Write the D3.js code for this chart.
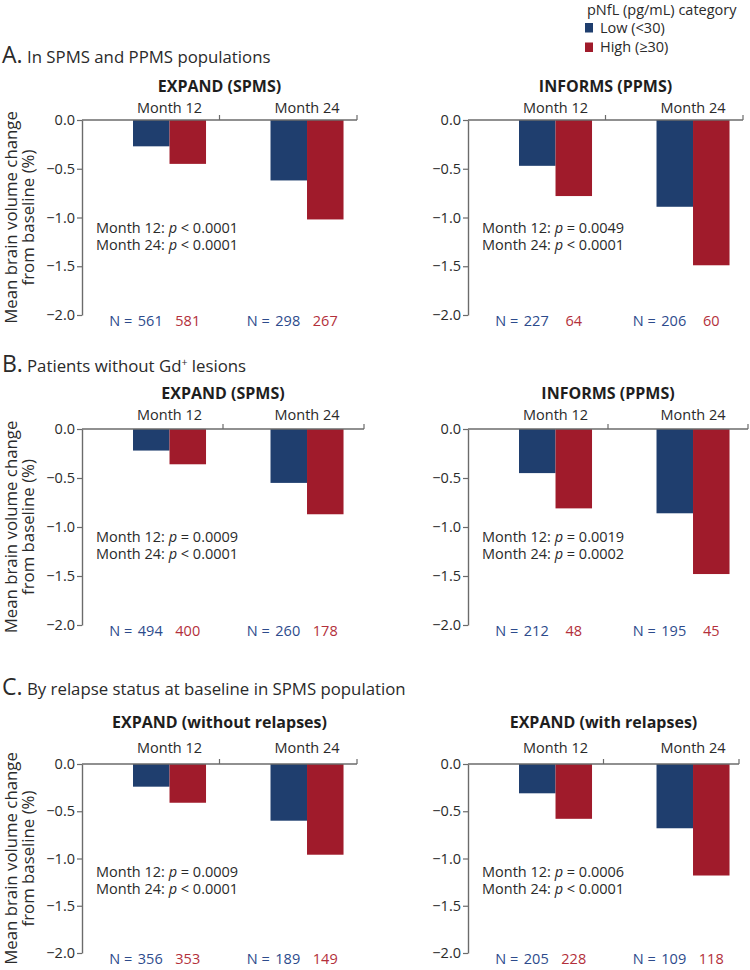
<!DOCTYPE html>
<html><head><meta charset="utf-8">
<script src="https://cdn.jsdelivr.net/npm/d3@7"></script>
<style>
html,body{margin:0;padding:0;background:#fff;}
svg{display:block;font-family:"Open Sans","Noto Sans",sans-serif;}
</style></head>
<body>
<svg id="chart" width="750" height="970"></svg>
<script>
// ---------- data ----------
const sectionLetters = ["A.", "B.", "C."];
const sectionTitles = [
  "In SPMS and PPMS populations",
  "Patients without Gd",
  "By relapse status at baseline in SPMS population"
];
const panelTitles = [
  "EXPAND (SPMS)", "INFORMS (PPMS)",
  "EXPAND (SPMS)", "INFORMS (PPMS)",
  "EXPAND (without relapses)", "EXPAND (with relapses)"
];
const months = ["Month 12", "Month 24"];
const categories = ["Low (<30)", "High (≥30)"];
const lowValues = [
  [-0.27, -0.62], [-0.47, -0.89],
  [-0.22, -0.55], [-0.45, -0.86],
  [-0.24, -0.60], [-0.31, -0.68]
];
const highValues = [
  [-0.45, -1.02], [-0.78, -1.49],
  [-0.36, -0.87], [-0.81, -1.48],
  [-0.41, -0.96], [-0.58, -1.18]
];
const lowN = [[561, 298], [227, 206], [494, 260], [212, 195], [356, 189], [205, 109]];
const highN = [[581, 267], [64, 60], [400, 178], [48, 45], [353, 149], [228, 118]];
const pMonth12 = [["<", "0.0001"], ["=", "0.0049"], ["=", "0.0009"], ["=", "0.0019"], ["=", "0.0009"], ["=", "0.0006"]];
const pMonth24 = [["<", "0.0001"], ["<", "0.0001"], ["<", "0.0001"], ["=", "0.0002"], ["<", "0.0001"], ["<", "0.0001"]];
const yTicks = [0, -0.5, -1.0, -1.5, -2.0];
const yDomain = [-2, 0];
const legendTitle = "pNfL (pg/mL) category";
const yTitle = ["Mean brain volume change", "from baseline (%)"];

// ---------- layout ----------
const colors = ["#1f3e6e", "#a01b2b"];
const nColors = ["#2d4b8c", "#b3303b"];
const rows = [
  {y0: 120, y2: 315, head: 63, title: 92, month: 113, len: [275, 275]},
  {y0: 429, y2: 625, head: 372, title: 399, month: 420, len: [282, 280]},
  {y0: 764, y2: 953, head: 695, title: 728, month: 753, len: [275, 271]}
];
const colX = [82, 468];
const barSpan = 275;
const axisColor = "#6b6b6b";
const textColor = "#2a2a2a";

const svg = d3.select("#chart");

// legend
const lg = svg.append("g");
lg.append("text").attr("x", 587).attr("y", 15).attr("font-size", 14.5).attr("fill", textColor).text(legendTitle);
categories.forEach((c, i) => {
  lg.append("rect").attr("x", 585).attr("y", 23 + i * 19.5).attr("width", 8).attr("height", 9.5).attr("fill", colors[i]);
  lg.append("text").attr("x", 600).attr("y", 32.5 + i * 19.5).attr("font-size", 14.5).attr("fill", textColor).text(c);
});

rows.forEach((r, ri) => {
  // section header
  svg.append("text").attr("x", 2).attr("y", r.head).attr("font-size", 23).attr("fill", textColor).text(sectionLetters[ri]);
  const ht = svg.append("text").attr("x", 27).attr("y", r.head).attr("font-size", 16.8).attr("fill", textColor).text(sectionTitles[ri]);
  if (ri === 1) {
    ht.append("tspan").attr("font-size", 10.5).attr("dy", -6).text("+");
    ht.append("tspan").attr("dy", 6).text(" lesions");
  }

  // y-axis title
  const cy = (r.y0 + r.y2) / 2;
  yTitle.forEach((t, li) => {
    svg.append("text")
      .attr("transform", `translate(${16.5 + li * 17.5},${cy}) rotate(-90)`)
      .attr("text-anchor", "middle").attr("font-size", 16.8).attr("fill", textColor).text(t);
  });

  [0, 1].forEach(ci => {
    const pi = ri * 2 + ci;
    const ax = colX[ci];
    const len = r.len[ci];
    const g = svg.append("g").attr("transform", `translate(${ax},0)`);

    const y = d3.scaleLinear().domain(yDomain).range([r.y2, r.y0]);
    const x = d3.scaleBand().domain(months).range([0, barSpan]).padding(0);
    const xSub = d3.scaleBand().domain(categories)
      .range([x.step() * 0.371, x.step() * 0.902]).padding(0);
    const xAxisBand = d3.scaleBand().domain(months).range([0, len]).padding(0);

    // title
    g.append("text").attr("x", len / 2).attr("y", r.title).attr("text-anchor", "middle")
      .attr("font-size", 16).attr("font-weight", "bold").attr("fill", "#1e1e1e").text(panelTitles[pi]);

    // month labels
    months.forEach(m => {
      g.append("text").attr("x", x(m) + (xSub.range()[0] + xSub.range()[1]) / 2).attr("y", r.month)
        .attr("text-anchor", "middle").attr("font-size", 14.5).attr("fill", textColor).text(m);
    });

    // bars
    const vals = [lowValues[pi], highValues[pi]];
    months.forEach((m, mi) => {
      categories.forEach((c, k) => {
        const v = vals[k][mi];
        g.append("rect")
          .attr("x", x(m) + xSub(c)).attr("width", xSub.bandwidth())
          .attr("y", y(0)).attr("height", y(v) - y(0))
          .attr("fill", colors[k]);
      });
    });

    // y axis
    const ya = g.append("g").call(d3.axisLeft(y).tickValues(yTicks).tickFormat(d3.format(".1f"))
      .tickSize(5).tickSizeOuter(0).tickPadding(2));
    ya.select(".domain").attr("stroke", axisColor).attr("stroke-width", 1.4);
    ya.selectAll(".tick line").attr("stroke", axisColor).attr("stroke-width", 1.2);
    ya.selectAll(".tick text").attr("font-size", 14.5).attr("fill", textColor)
      .attr("font-family", "'Open Sans','Noto Sans',sans-serif");

    // x axis (top, at zero) with band boundary ticks pointing up
    g.append("line").attr("x1", 0).attr("x2", len).attr("y1", y(0)).attr("y2", y(0))
      .attr("stroke", axisColor).attr("stroke-width", 1.4);
    months.forEach(m => {
      const bx = xAxisBand(m) + xAxisBand.step();
      g.append("line").attr("x1", bx).attr("x2", bx).attr("y1", y(0)).attr("y2", y(0) - 5)
        .attr("stroke", axisColor).attr("stroke-width", 1.2);
    });

    // N labels
    months.forEach((m, mi) => {
      const cLow = x(m) + xSub(categories[0]) + xSub.bandwidth() / 2;
      const cHigh = x(m) + xSub(categories[1]) + xSub.bandwidth() / 2;
      const ny = y(-2) + 10.5;
      g.append("text").attr("x", cLow - 19).attr("y", ny).attr("text-anchor", "end")
        .attr("font-size", 14.5).attr("fill", nColors[0]).text("N =");
      g.append("text").attr("x", cLow - 1).attr("y", ny).attr("text-anchor", "middle")
        .attr("font-size", 14.5).attr("fill", nColors[0]).text(lowN[pi][mi]);
      g.append("text").attr("x", cHigh).attr("y", ny).attr("text-anchor", "middle")
        .attr("font-size", 14.5).attr("fill", nColors[1]).text(highN[pi][mi]);
    });

    // p-values
    [pMonth12[pi], pMonth24[pi]].forEach((p, li) => {
      const t = g.append("text").attr("x", 14).attr("y", r.y0 + 113 + li * 17)
        .attr("font-size", 14.5).attr("fill", textColor);
      t.append("tspan").text(months[li] + ": ");
      t.append("tspan").attr("font-style", "italic").text("p");
      t.append("tspan").text(" " + p[0] + " " + p[1]);
    });
  });
});
</script>
</body></html>
